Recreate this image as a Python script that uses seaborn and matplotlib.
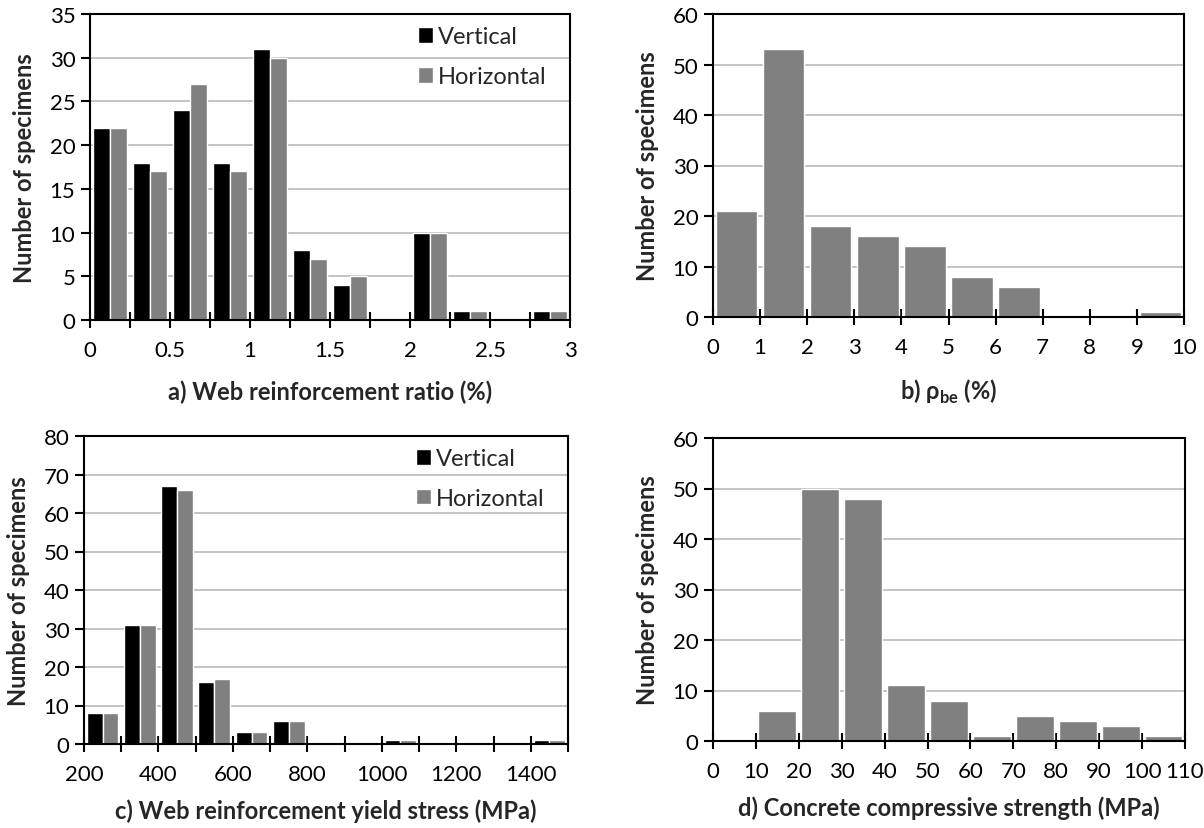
import numpy as np
import pandas as pd
import matplotlib
matplotlib.use('Agg')
import matplotlib.pyplot as plt
import seaborn as sns

# a) web reinforcement ratio (%), bins of 0.25
ratio_start = [0.0, 0.25, 0.5, 0.75, 1.0, 1.25, 1.5, 1.75, 2.0, 2.25, 2.5, 2.75]
ratio_vert = [22, 18, 24, 18, 31, 8, 4, 0, 10, 1, 0, 1]
ratio_horiz = [22, 17, 27, 17, 30, 7, 5, 0, 10, 1, 0, 1]

# b) boundary element reinforcement ratio (%), bins of 1
rho_start = [0, 1, 2, 3, 4, 5, 6, 7, 8, 9]
rho_count = [21, 53, 18, 16, 14, 8, 6, 0, 0, 1]

# c) web reinforcement yield stress (MPa), bins of 100
fy_start = [200, 300, 400, 500, 600, 700, 800, 900, 1000, 1100, 1200, 1300, 1400]
fy_vert = [8, 31, 67, 16, 3, 6, 0, 0, 1, 0, 0, 0, 1]
fy_horiz = [8, 31, 66, 17, 3, 6, 0, 0, 1, 0, 0, 0, 1]

# d) concrete compressive strength (MPa), bins of 10
fc_start = [0, 10, 20, 30, 40, 50, 60, 70, 80, 90, 100]
fc_count = [0, 6, 50, 48, 11, 8, 1, 5, 4, 3, 1]

BLACK = '#000000'
GREY = '#808080'
FS = 16
LFS = 17

sns.set_style('white')
plt.rcParams['font.family'] = ['Lato', 'Open Sans', 'DejaVu Sans']
plt.rcParams['mathtext.fontset'] = 'custom'
plt.rcParams['mathtext.rm'] = 'Lato'
plt.rcParams['mathtext.bf'] = 'Lato:bold'


def pair_frame(start, vert, horiz, step):
    mid = [s + step / 2 for s in start]
    return pd.DataFrame({
        'x': mid + mid,
        'count': vert + horiz,
        'dir': ['Vertical'] * len(mid) + ['Horizontal'] * len(mid),
    })


def style_axes(ax, xlim, xticks, xlabels, ylim, ystep, xlabel, xpad=14):
    ax.set_xlim(*xlim)
    ax.set_ylim(*ylim)
    ax.set_xticks(xticks, xlabels)
    ax.set_yticks(np.arange(ylim[0], ylim[1] + 1, ystep))
    ax.yaxis.grid(True, color='#bfbfbf', lw=1.3)
    ax.xaxis.grid(False)
    ax.set_axisbelow(True)
    for sp in ax.spines.values():
        sp.set_visible(True)
        sp.set_color('black')
        sp.set_linewidth(1.5)
    ax.tick_params(axis='x', direction='inout', length=11.5, width=1.5,
                   pad=9, labelsize=FS, colors='black', bottom=True)
    ax.tick_params(axis='y', direction='out', length=6.5, width=1.5,
                   pad=4, labelsize=FS, colors='black', left=True)
    ax.set_xlabel(xlabel, fontsize=LFS, fontweight='bold', labelpad=xpad)
    ax.set_ylabel('Number of specimens', fontsize=LFS, fontweight='bold', labelpad=10)


def pair_legend(ax):
    sns.move_legend(ax, 'upper right', bbox_to_anchor=(0.995, 1.03), frameon=False,
                    title=None, fontsize=FS + 1, labelspacing=0.8, handlelength=0.65,
                    handleheight=0.65, handletextpad=0.2)


W, H = 1204, 829
fig = plt.figure(figsize=(W / 100, H / 100), dpi=100)


def place(l, t, r, b):
    return fig.add_axes([l / W, (H - b) / H, (r - l) / W, (b - t) / H])


ax_a = place(90, 15, 570, 321)
ax_b = place(713, 15, 1184, 318)
ax_c = place(84, 437, 568, 745)
ax_d = place(713, 439, 1185, 742)

# a)
df_a = pair_frame(ratio_start, ratio_vert, ratio_horiz, 0.25)
sns.barplot(data=df_a, x='x', y='count', hue='dir', native_scale=True, width=0.85,
            palette=[BLACK, GREY], saturation=1, errorbar=None, ax=ax_a)
a_ticks = ratio_start + [3.0]
a_labels = ['0' if t == 0 else (f'{t:g}' if (t * 2) % 1 == 0 else '') for t in a_ticks]
style_axes(ax_a, (0, 3), a_ticks, a_labels, (0, 35), 5, 'a) Web reinforcement ratio (%)')
pair_legend(ax_a)

# b)
rho_mid = [s + 0.5 for s in rho_start]
sns.barplot(x=rho_mid, y=rho_count, native_scale=True, width=0.88, color=GREY,
            saturation=1, errorbar=None, ax=ax_b)
b_ticks = rho_start + [10]
style_axes(ax_b, (0, 10), b_ticks, [str(t) for t in b_ticks], (0, 60), 10,
           r'b) ρ$_{\mathbf{be}}$ (%)')

# c)
df_c = pair_frame(fy_start, fy_vert, fy_horiz, 100)
sns.barplot(data=df_c, x='x', y='count', hue='dir', native_scale=True, width=0.85,
            palette=[BLACK, GREY], saturation=1, errorbar=None, ax=ax_c)
c_ticks = fy_start + [1500]
c_labels = [str(t) if t % 200 == 0 and t < 1500 else '' for t in c_ticks]
style_axes(ax_c, (200, 1500), c_ticks, c_labels, (0, 80), 10,
           'c) Web reinforcement yield stress (MPa)', xpad=10)
pair_legend(ax_c)

# d)
fc_mid = [s + 5 for s in fc_start]
sns.barplot(x=fc_mid, y=fc_count, native_scale=True, width=0.88, color=GREY,
            saturation=1, errorbar=None, ax=ax_d)
d_ticks = fc_start + [110]
style_axes(ax_d, (0, 110), d_ticks, [str(t) for t in d_ticks], (0, 60), 10,
           'd) Concrete compressive strength (MPa)', xpad=10)

fig.savefig('out.png', dpi=100)
